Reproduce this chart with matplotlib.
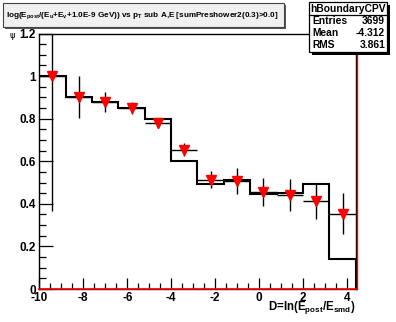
import matplotlib
matplotlib.use("Agg")
import matplotlib.pyplot as plt
from matplotlib.patches import Rectangle
from matplotlib.lines import Line2D
from matplotlib.ticker import MultipleLocator
import numpy as np

plt.rcParams['font.family'] = ['Liberation Sans', 'DejaVu Sans']
plt.rcParams['font.weight'] = 'bold'
plt.rcParams['mathtext.fontset'] = 'custom'
plt.rcParams['mathtext.rm'] = 'Liberation Sans:bold'
plt.rcParams['mathtext.it'] = 'Liberation Sans:bold'
plt.rcParams['mathtext.bf'] = 'Liberation Sans:bold'

# Binning and contents
bin_edges = [-10.0, -8.8, -7.6, -6.4, -5.2, -4.0, -2.8, -1.6, -0.4, 0.8, 2.0, 3.2, 4.4]
hist_values = [1.0, 0.90, 0.877, 0.849, 0.80, 0.60, 0.495, 0.514, 0.444, 0.449, 0.491, 0.139]
point_values = [1.0, 0.902, 0.876, 0.848, 0.781, 0.655, 0.514, 0.507, 0.455, 0.441, 0.411, 0.353]
point_errors = [0.635, 0.10, 0.047, 0.028, 0.024, 0.031, 0.039, 0.06, 0.067, 0.075, 0.08, 0.097]

x_ticks = [-10, -8, -6, -4, -2, 0, 2, 4]
y_ticks = [0, 0.2, 0.4, 0.6, 0.8, 1.0, 1.2]
y_ticklabels = ["0", "0.2", "0.4", "0.6", "0.8", "1", "1.2"]

W, H = 396, 322
fig = plt.figure(figsize=(W / 100, H / 100), dpi=100)
fig.patch.set_facecolor('white')

def fx(px):
    return px / W

def fy(py):
    return 1 - py / H

ax_l, ax_r, ax_t, ax_b = 39.3, 355.7, 33.5, 289.0
ax = fig.add_axes([fx(ax_l), fy(ax_b), fx(ax_r) - fx(ax_l), fy(ax_t) - fy(ax_b)])
ax.set_xlim(-10, 4.4)
ax.set_ylim(0, 1.2)

edges = np.array(bin_edges)
centers = 0.5 * (edges[:-1] + edges[1:])
half_w = 0.5 * np.diff(edges)

ax.stairs(hist_values, edges, color='black', linewidth=1.5, zorder=2)
ax.errorbar(centers, point_values, yerr=point_errors, xerr=half_w,
            fmt='none', ecolor='black', elinewidth=1.0, capsize=0, zorder=3)
ax.plot(centers, point_values, linestyle='none', marker='v', markersize=6.5,
        markerfacecolor='red', markeredgecolor='red', zorder=4)

ax.set_xticks(x_ticks)
ax.set_xticklabels([str(t) for t in x_ticks])
ax.set_yticks(y_ticks)
ax.set_yticklabels(y_ticklabels)
ax.xaxis.set_minor_locator(MultipleLocator(0.5))
ax.yaxis.set_minor_locator(MultipleLocator(0.05))
ax.tick_params(axis='both', which='both', direction='in', top=False, right=False,
               labelsize=8.5, width=0.9)
ax.tick_params(axis='x', which='major', length=8, pad=2.5)
ax.tick_params(axis='x', which='minor', length=4)
ax.tick_params(axis='y', which='major', length=10, pad=2.5)
ax.tick_params(axis='y', which='minor', length=5)
for lbl in ax.get_xticklabels() + ax.get_yticklabels():
    lbl.set_fontweight('bold')
for s in ax.spines.values():
    s.set_linewidth(1.0)
    s.set_color('black')

# red outline of the marker histogram along the bottom and right side
ax.add_line(Line2D([0, 1], [0, 0], transform=ax.transAxes, color='red',
                   linewidth=1.2, clip_on=False, zorder=5))
ax.add_line(Line2D([1.003, 1.003], [0, 1], transform=ax.transAxes, color='red',
                   linewidth=1.0, clip_on=False, zorder=5))

# axis titles
fig.text(fx(ax_r), fy(310), r"D=ln(E$_{post}$/E$_{smd}$)", ha='right', va='baseline',
         fontsize=8.3, fontweight='bold')
fig.text(fx(10), fy(38), "ψ", ha='left', va='baseline', fontsize=6,
         fontweight='normal', family=['DejaVu Sans'])

# title box with shadow
tb_l, tb_t, tb_r, tb_b = 3, 3, 284, 27
fig.patches.append(Rectangle((fx(tb_l + 2), fy(tb_b + 2)), fx(tb_r - tb_l), fy(tb_t) - fy(tb_b),
                             transform=fig.transFigure, facecolor='#555555', edgecolor='none'))
fig.patches.append(Rectangle((fx(tb_l), fy(tb_b)), fx(tb_r - tb_l), fy(tb_t) - fy(tb_b),
                             transform=fig.transFigure, facecolor='#f0f0f0', edgecolor='#444444',
                             linewidth=0.8))
fig.text(fx(142.5), fy(15.5),
         r"log(E$_{post}$/(E$_{u}$+E$_{v}$+1.0E-9 GeV)) vs p$_{T}$ sub A,E [sumPreshower2(0.3)>0.0]",
         ha='center', va='center', fontsize=5.85, fontweight='bold')

# statistics box with shadow
sb_l, sb_t, sb_r, sb_b = 309, 2, 387, 52
fig.patches.append(Rectangle((fx(sb_l + 3), fy(sb_b + 3)), fx(sb_r - sb_l), fy(sb_t) - fy(sb_b),
                             transform=fig.transFigure, facecolor='black', edgecolor='none',
                             zorder=10))
fig.patches.append(Rectangle((fx(sb_l), fy(sb_b)), fx(sb_r - sb_l), fy(sb_t) - fy(sb_b),
                             transform=fig.transFigure, facecolor='white', edgecolor='black',
                             linewidth=0.9, zorder=11))
fig.lines.append(Line2D([fx(sb_l), fx(sb_r)], [fy(15), fy(15)], transform=fig.transFigure,
                        color='black', linewidth=0.9, zorder=12))
fig.text(fx(0.5 * (sb_l + sb_r)), fy(9), "hBoundaryCPV", ha='center', va='center',
         fontsize=7.4, fontweight='bold', zorder=13)
stat_names = ["Entries", "Mean", "RMS"]
stat_values = ["3699", "-4.312", "3.861"]
for i, (n, v) in enumerate(zip(stat_names, stat_values)):
    yy = fy(21.5 + 11.5 * i)
    fig.text(fx(312), yy, n, ha='left', va='center', fontsize=7.4, fontweight='bold', zorder=13)
    fig.text(fx(385), yy, v, ha='right', va='center', fontsize=7.4, fontweight='bold', zorder=13)

fig.savefig("out.png", dpi=100)
